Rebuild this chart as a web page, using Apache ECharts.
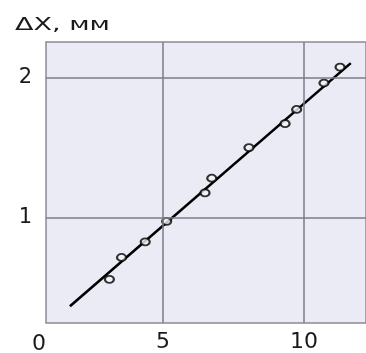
<!DOCTYPE html>
<html><head><meta charset="utf-8">
<script src="https://cdn.jsdelivr.net/npm/echarts@6/dist/echarts.min.js"></script>
<style>html,body{margin:0;padding:0;background:#fff}#c{width:366px;height:353px}</style>
</head><body><div id="c"></div>
<script>
// Measured points
const xValues = [3.10, 3.53, 4.37, 5.13, 6.49, 6.73, 8.05, 9.33, 9.74, 10.71, 11.28];
const yValues = [0.56, 0.716, 0.828, 0.974, 1.177, 1.282, 1.501, 1.672, 1.773, 1.962, 2.076];
// Fitted straight line (end points)
const fitX = [1.70, 11.66];
const fitY = [0.367, 2.104];
// Ticks
const xTicks = [5, 10];
const yTicks = [1, 2];
const originLabel = '0';
const yTitle = 'ΔX, мм';

const chart = echarts.init(document.getElementById('c'), null, {renderer: 'canvas'});
const gridColor = '#7d7d88';
const font = 'DejaVu Sans, sans-serif';
chart.setOption({
  animation: false,
  grid: {left: 46, top: 42, right: -3, bottom: 28, show: true, backgroundColor: '#ebebf5', borderColor: '#8a8a94', borderWidth: 1.5},
  xAxis: {
    type: 'value', min: 0.851, max: 12.2,
    axisLine: {show: false}, axisTick: {show: false}, splitLine: {show: false},
    axisLabel: {customValues: xTicks, fontSize: 22, color: '#1a1a1a', fontFamily: font, margin: 8}
  },
  yAxis: {
    type: 'value', min: 0.248, max: 2.255,
    axisLine: {show: false}, axisTick: {show: false}, splitLine: {show: false},
    axisLabel: {customValues: yTicks, fontSize: 21, color: '#1a1a1a', fontFamily: font, margin: 14}
  },
  graphic: [
    {type: 'text', x: 15, y: 25, scaleX: 1.5, originX: 0, style: {text: yTitle, fontSize: 18, fill: '#1a1a1a', fontFamily: font, verticalAlign: 'middle'}},
    {type: 'text', x: 39, y: 344, style: {text: originLabel, fontSize: 22, fill: '#1a1a1a', fontFamily: font, align: 'center', verticalAlign: 'middle'}}
  ],
  series: [
    {
      type: 'line', data: fitX.map((x, i) => [x, fitY[i]]), showSymbol: false, symbol: 'none',
      lineStyle: {color: '#000', width: 2.6}, z: 3,
      markLine: {
        silent: true, symbol: 'none', label: {show: false},
        lineStyle: {color: gridColor, width: 1.5, type: 'solid'},
        data: xTicks.map(v => ({xAxis: v})).concat(yTicks.map(v => ({yAxis: v})))
      }
    },
    {
      type: 'scatter', data: xValues.map((x, i) => [x, yValues[i]]),
      symbol: 'circle', symbolSize: [9, 7],
      itemStyle: {color: '#f4f4fa', borderColor: '#000', borderWidth: 2}, z: 4
    }
  ]
});
</script></body></html>
